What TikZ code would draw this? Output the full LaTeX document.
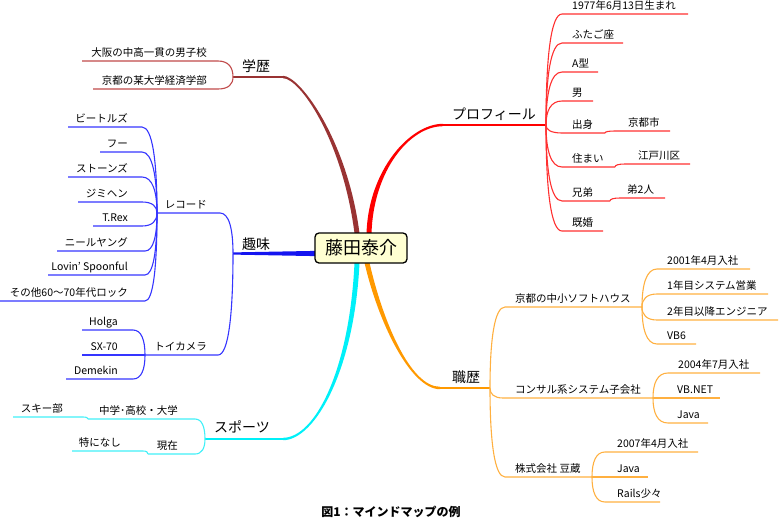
\documentclass[tikz,border=0pt]{standalone}
\usepackage{fontspec}
\setmainfont{Noto Sans CJK JP}
\usetikzlibrary{calc,backgrounds}
\definecolor{brM}{HTML}{993333}
\definecolor{brC}{HTML}{C04A4A}
\definecolor{blM}{HTML}{1414F0}
\definecolor{blC}{HTML}{3535FF}
\definecolor{rdM}{HTML}{FF0000}
\definecolor{rdC}{HTML}{FF3030}
\definecolor{cyM}{HTML}{00F0F8}
\definecolor{cyC}{HTML}{40F0F8}
\definecolor{orM}{HTML}{FF9900}
\definecolor{orC}{HTML}{FFB040}
\definecolor{rootY}{HTML}{FFFFD2}
\newcommand{\leafL}[8]{%
  \coordinate (#1e) at (#4,#5);
  \coordinate (#1f) at (#6,#5);
  \draw[#2,line width=1.1pt] (#3) to[mm] (#1e) -- (#1f);
  \node[lbl,anchor=base east] (#1) at (#7,#5-5) {#8};}
\newcommand{\leafR}[8]{%
  \coordinate (#1e) at (#4,#5);
  \coordinate (#1f) at (#6,#5);
  \draw[#2,line width=1.1pt] (#3) to[mm] (#1e) -- (#1f);
  \node[lbl,anchor=base west] (#1) at (#7,#5-5) {#8};}
\begin{document}
\begin{tikzpicture}[x=1pt,y=-1pt,
  mm/.style={to path={.. controls ($(\tikztostart)!.6!(\tikztostart|-\tikztotarget)$) and ($(\tikztotarget)!.7!(\tikztostart|-\tikztotarget)$) .. (\tikztotarget)}},
  lbl/.style={font=\fontsize{10.5}{12}\selectfont, inner sep=0pt},
  big/.style={font=\fontsize{14}{16}\selectfont, inner sep=0pt, anchor=base},
  rootbox/.style={draw, line width=1.3pt, rounded corners=4pt, fill=rootY, minimum width=92pt, minimum height=30pt, inner sep=0pt, font=\fontsize{18}{20}\selectfont}]
\useasboundingbox (0,0) rectangle (780,520);
\node[rootbox] (root) at (361,248) {藤田泰介};
% main branch points
\coordinate (gak) at (233,77);
\coordinate (gakH) at (283,77);
\coordinate (shu) at (233,253.5);
\coordinate (spo) at (205,439);
\coordinate (spoH) at (283,439);
\coordinate (pro) at (546,125);
\coordinate (proH) at (443,125);
\coordinate (shk) at (490,388);
\coordinate (shkH) at (440,388);
\begin{scope}[on background layer]
\coordinate (rbN) at ($(root.north)+(-4,1)$);
\coordinate (rrN) at ($(root.north)+(8,1)$);
\coordinate (rcS) at ($(root.south)+(-4,-1)$);
\coordinate (roS) at ($(root.south)+(6,-1)$);
\coordinate (rbW) at ($(root.west)+(1,5.5)$);
% brown
\fill[brM] ($(rbN)+(-2.5,0)$) .. controls (342.5,140) and (300,78.2) .. ($(gakH)+(0,1.2)$) -- ($(gakH)+(0,-1.2)$) .. controls (300,75.8) and (347.5,140) .. ($(rbN)+(2.5,0)$) -- cycle;
\draw[brM,line width=2.2pt] (gakH) -- (gak);
% red
\fill[rdM] ($(rrN)+(-2.5,0)$) .. controls (368.5,170) and (410,123.8) .. ($(proH)+(0,-1.2)$) -- ($(proH)+(0,1.2)$) .. controls (410,126.2) and (373.5,170) .. ($(rrN)+(2.5,0)$) -- cycle;
\draw[rdM,line width=2.2pt] (proH) -- (pro);
% cyan
\fill[cyM] ($(rcS)+(-2.5,0)$) .. controls (349.5,370) and (315,437.8) .. ($(spoH)+(0,-1.2)$) -- ($(spoH)+(0,1.2)$) .. controls (315,440.2) and (354.5,370) .. ($(rcS)+(2.5,0)$) -- cycle;
\draw[cyM,line width=2.2pt] (spoH) -- (spo);
% orange
\fill[orM] ($(roS)+(-2.5,0)$) .. controls (377.5,320) and (410,389.2) .. ($(shkH)+(0,1.2)$) -- ($(shkH)+(0,-1.2)$) .. controls (410,386.8) and (382.5,320) .. ($(roS)+(2.5,0)$) -- cycle;
\draw[orM,line width=2.2pt] (shkH) -- (shk);
% blue
\fill[blM] ($(rbW)+(0,-2.6)$) -- ($(rbW)+(0,2.6)$) -- ($(shu)+(0,1.1)$) -- ($(shu)+(0,-1.1)$) -- cycle;
\end{scope}
% main labels
\node[big] (gakL) at (256,71) {学歴};
\node[big] (shuL) at (256,249) {趣味};
\node[big] (spoL) at (242,432) {スポーツ};
\node[big] (proL) at (494,119) {プロフィール};
\node[big] (shkL) at (466,382) {職歴};
% 学歴
\leafL{ga}{brC}{gak}{218}{61}{82}{207}{大阪の中高一貫の男子校}
\leafL{gb}{brC}{gak}{218}{89}{93}{207}{京都の某大学経済学部}
% 趣味
\leafL{rec}{blC}{shu}{220}{213}{157}{207}{レコード}
\leafL{toy}{blC}{shu}{218}{355}{145}{207}{トイカメラ}
\leafL{ca}{blC}{recf}{142}{127}{68}{128}{ビートルズ}
\leafL{cb}{blC}{recf}{142}{152}{100}{128}{フー}
\leafL{cc}{blC}{recf}{142}{177}{68}{128}{ストーンズ}
\leafL{cd}{blC}{recf}{142}{202}{78}{128}{ジミヘン}
\leafL{ce}{blC}{recf}{142}{226}{93}{128}{T.Rex}
\leafL{cf}{blC}{recf}{145}{251}{57}{128}{ニールヤング}
\leafL{cg}{blC}{recf}{145}{275}{48}{128}{Lovin' Spoonful}
\leafL{ch}{blC}{recf}{145}{301}{0}{128}{その他60〜70年代ロック}
\leafL{ta}{blC}{toyf}{133}{330}{82}{118}{Holga}
\leafL{tb}{blC}{toyf}{133}{355}{82}{118}{SX-70}
\leafL{tc}{blC}{toyf}{133}{379}{66}{118}{Demekin}
% スポーツ
\leafL{sa}{cyC}{spo}{195}{419}{88}{178}{中学･高校・大学}
\leafL{sb}{cyC}{spo}{195}{454}{148}{178}{現在}
\leafL{sc}{cyC}{saf}{83}{417}{13}{63}{スキー部}
\leafL{sd}{cyC}{sbf}{143}{451}{72}{121}{特になし}
% プロフィール
\leafR{pa}{rdC}{pro}{562}{14}{688}{572}{1977年6月13日生まれ}
\leafR{pb}{rdC}{pro}{562}{43}{623}{572}{ふたご座}
\leafR{pc}{rdC}{pro}{562}{72}{598}{572}{A型}
\leafR{pd}{rdC}{pro}{562}{101}{593}{572}{男}
\leafR{pe}{rdC}{pro}{562}{133}{605}{572}{出身}
\leafR{pf}{rdC}{pro}{562}{167}{615}{572}{住まい}
\leafR{pg}{rdC}{pro}{562}{201}{610}{572}{兄弟}
\leafR{ph}{rdC}{pro}{562}{231}{603}{572}{既婚}
\leafR{qe}{rdC}{pef}{615}{131}{670}{628}{京都市}
\leafR{qf}{rdC}{pff}{625}{164}{690}{638}{江戸川区}
\leafR{qg}{rdC}{pgf}{620}{198}{665}{627}{弟2人}
% 職歴
\leafR{ka}{orC}{shk}{505}{307}{642}{515}{京都の中小ソフトハウス}
\leafR{kb}{orC}{shk}{503}{398}{653}{515}{コンサル系システム子会社}
\leafR{kc}{orC}{shk}{505}{477}{592}{515}{株式会社 豆蔵}
\leafR{ma}{orC}{kaf}{657}{269}{750}{667}{2001年4月入社}
\leafR{mb}{orC}{kaf}{657}{294}{768}{667}{1年目システム営業}
\leafR{mc}{orC}{kaf}{657}{320}{778}{667}{2年目以降エンジニア}
\leafR{md}{orC}{kaf}{657}{344}{696}{667}{VB6}
\leafR{na}{orC}{kbf}{668}{373}{760}{678}{2004年7月入社}
\leafR{nb}{orC}{kbf}{668}{398}{720}{677}{VB.NET}
\leafR{nc}{orC}{kbf}{668}{423}{708}{677}{Java}
\leafR{oa}{orC}{kcf}{605}{452}{698}{617}{2007年4月入社}
\leafR{ob}{orC}{kcf}{605}{477}{648}{617}{Java}
\leafR{oc}{orC}{kcf}{605}{502}{660}{617}{Rails少々}
% caption
\node[font=\fontsize{12}{14}\selectfont\bfseries, anchor=base, inner sep=0pt] (cap) at (391,516) {図1：マインドマップの例};
\end{tikzpicture}
\end{document}
